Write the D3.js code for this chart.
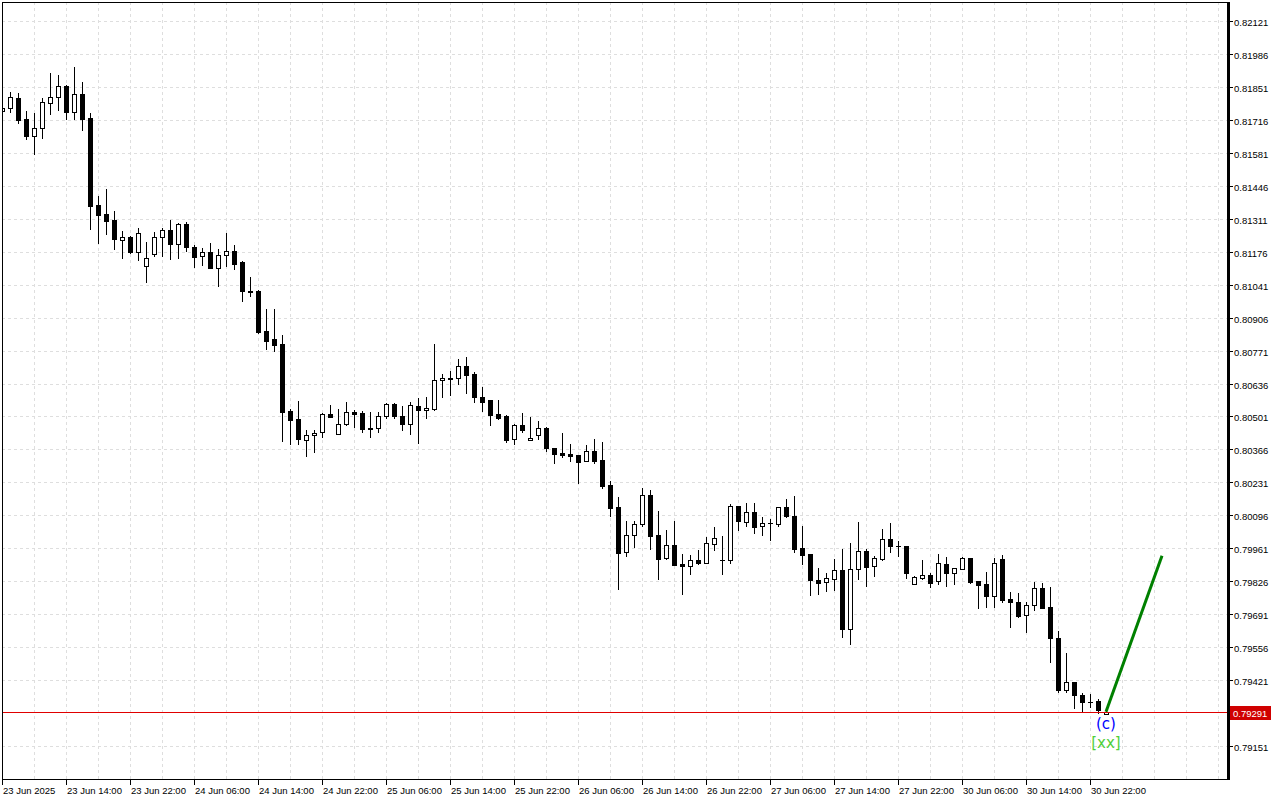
<!DOCTYPE html>
<html><head><meta charset="utf-8">
<script src="https://cdn.jsdelivr.net/npm/d3@7"></script>
<style>body{margin:0;background:#fff;} svg{display:block;}</style>
</head><body><svg id="c" width="1280" height="800"></svg>
<script>
// ---- data (hourly candles, 23 Jun 2025 06:00 onward) ----
const openP = [0.81752,0.81764,0.81806,0.81719,0.81650,0.81682,0.81785,0.81810,0.81855,0.81748,0.81822,0.81723,0.81368,0.81331,0.81306,0.81224,0.81236,0.81175,0.81118,0.81167,0.81236,0.81265,0.81208,0.81290,0.81195,0.81159,0.81175,0.81109,0.81163,0.81179,0.81134,0.81015,0.81015,0.80851,0.80818,0.80798,0.80523,0.80490,0.80404,0.80425,0.80437,0.80511,0.80429,0.80470,0.80519,0.80515,0.80453,0.80453,0.80502,0.80552,0.80502,0.80470,0.80543,0.80527,0.80531,0.80650,0.80658,0.80658,0.80708,0.80675,0.80581,0.80568,0.80511,0.80502,0.80408,0.80466,0.80404,0.80425,0.80453,0.80371,0.80351,0.80347,0.80343,0.80318,0.80359,0.80322,0.80220,0.80130,0.79946,0.80016,0.80061,0.80179,0.80016,0.79921,0.79975,0.79897,0.79889,0.79913,0.79901,0.79979,0.79913,0.79913,0.80134,0.80069,0.80110,0.80052,0.80065,0.80061,0.80130,0.80093,0.79962,0.79938,0.79831,0.79823,0.79835,0.79872,0.79630,0.79876,0.79950,0.79889,0.79917,0.79999,0.79971,0.79971,0.79815,0.79839,0.79852,0.79827,0.79897,0.79860,0.79876,0.79921,0.79827,0.79815,0.79766,0.79917,0.79753,0.79741,0.79688,0.79729,0.79799,0.79720,0.79593,0.79380,0.79413,0.79360,0.79331,0.79335,0.79282];
const highP = [0.81781,0.81830,0.81826,0.81752,0.81744,0.81806,0.81908,0.81900,0.81859,0.81933,0.81871,0.81744,0.81404,0.81432,0.81343,0.81261,0.81241,0.81273,0.81216,0.81257,0.81273,0.81306,0.81294,0.81298,0.81204,0.81191,0.81212,0.81187,0.81253,0.81204,0.81138,0.81073,0.81019,0.80941,0.80941,0.80835,0.80531,0.80564,0.80445,0.80445,0.80515,0.80548,0.80531,0.80560,0.80527,0.80523,0.80519,0.80519,0.80556,0.80556,0.80543,0.80560,0.80577,0.80581,0.80798,0.80675,0.80687,0.80736,0.80744,0.80683,0.80622,0.80568,0.80568,0.80507,0.80470,0.80515,0.80498,0.80482,0.80457,0.80371,0.80433,0.80388,0.80343,0.80384,0.80408,0.80396,0.80236,0.80171,0.80073,0.80073,0.80208,0.80199,0.80114,0.80036,0.80073,0.79938,0.79934,0.79954,0.80007,0.80048,0.80012,0.80143,0.80134,0.80147,0.80147,0.80089,0.80081,0.80130,0.80162,0.80175,0.80052,0.79938,0.79880,0.79860,0.79917,0.79958,0.79983,0.80069,0.79958,0.79930,0.80040,0.80065,0.79991,0.79971,0.79848,0.79913,0.79860,0.79938,0.79925,0.79880,0.79925,0.79921,0.79827,0.79864,0.79921,0.79934,0.79782,0.79778,0.79741,0.79823,0.79819,0.79803,0.79622,0.79532,0.79413,0.79368,0.79364,0.79343,0.79294];
const lowP = [0.81744,0.81748,0.81703,0.81637,0.81576,0.81641,0.81740,0.81756,0.81719,0.81719,0.81674,0.81269,0.81212,0.81249,0.81187,0.81150,0.81171,0.81142,0.81052,0.81159,0.81159,0.81146,0.81150,0.81179,0.81114,0.81122,0.81109,0.81036,0.81118,0.81105,0.80974,0.80995,0.80843,0.80777,0.80769,0.80400,0.80388,0.80388,0.80339,0.80355,0.80416,0.80498,0.80429,0.80466,0.80457,0.80437,0.80416,0.80437,0.80494,0.80494,0.80445,0.80429,0.80392,0.80494,0.80527,0.80581,0.80589,0.80634,0.80597,0.80560,0.80523,0.80466,0.80490,0.80396,0.80388,0.80437,0.80404,0.80408,0.80359,0.80310,0.80334,0.80318,0.80228,0.80318,0.80310,0.80208,0.80093,0.79794,0.79930,0.79966,0.80052,0.79958,0.79835,0.79917,0.79893,0.79774,0.79856,0.79897,0.79901,0.79954,0.79856,0.79901,0.80036,0.80052,0.80024,0.80016,0.79995,0.80052,0.80089,0.79946,0.79897,0.79770,0.79774,0.79786,0.79790,0.79597,0.79569,0.79835,0.79807,0.79848,0.79913,0.79946,0.79930,0.79839,0.79815,0.79835,0.79803,0.79815,0.79807,0.79815,0.79876,0.79819,0.79716,0.79720,0.79720,0.79741,0.79638,0.79679,0.79618,0.79708,0.79716,0.79495,0.79372,0.79372,0.79306,0.79294,0.79310,0.79286,0.79282];
const closeP = [0.81764,0.81810,0.81715,0.81650,0.81682,0.81789,0.81810,0.81855,0.81748,0.81822,0.81719,0.81363,0.81327,0.81302,0.81228,0.81236,0.81175,0.81253,0.81150,0.81236,0.81265,0.81208,0.81290,0.81195,0.81154,0.81175,0.81109,0.81163,0.81179,0.81126,0.81015,0.81011,0.80847,0.80810,0.80794,0.80519,0.80486,0.80408,0.80425,0.80433,0.80511,0.80498,0.80470,0.80519,0.80511,0.80449,0.80449,0.80502,0.80552,0.80502,0.80470,0.80548,0.80527,0.80535,0.80650,0.80658,0.80654,0.80708,0.80671,0.80581,0.80560,0.80507,0.80494,0.80404,0.80466,0.80445,0.80412,0.80453,0.80371,0.80347,0.80343,0.80339,0.80314,0.80359,0.80318,0.80216,0.80126,0.79942,0.80016,0.80061,0.80179,0.80012,0.79917,0.79975,0.79893,0.79889,0.79913,0.79901,0.79983,0.80003,0.79913,0.80134,0.80073,0.80110,0.80048,0.80065,0.80065,0.80130,0.80093,0.79958,0.79934,0.79831,0.79819,0.79839,0.79872,0.79630,0.79876,0.79950,0.79885,0.79921,0.79999,0.79971,0.79971,0.79860,0.79844,0.79852,0.79819,0.79901,0.79860,0.79880,0.79921,0.79823,0.79811,0.79766,0.79901,0.79749,0.79741,0.79683,0.79729,0.79799,0.79716,0.79593,0.79380,0.79413,0.79360,0.79331,0.79331,0.79298,0.79291];

const priceTicks = [0.82121,0.81986,0.81851,0.81716,0.81581,0.81446,0.81311,0.81176,0.81041,0.80906,0.80771,0.80636,0.80501,0.80366,0.80231,0.80096,0.79961,0.79826,0.79691,0.79556,0.79421,0.79151];
const timeLabels = ["23 Jun 2025","23 Jun 14:00","23 Jun 22:00","24 Jun 06:00","24 Jun 14:00","24 Jun 22:00","25 Jun 06:00","25 Jun 14:00","25 Jun 22:00","26 Jun 06:00","26 Jun 14:00","26 Jun 22:00","27 Jun 06:00","27 Jun 14:00","27 Jun 22:00","30 Jun 06:00","30 Jun 14:00","30 Jun 22:00"];
const barsPerLabel = 8;
const barsPerGrid = 4;
const lastPrice = 0.79291;
const projIdx = [138, 145];
const projPrice = [0.79291, 0.79930];
const waveText = "(c)";
const degreeText = "[xx]";

// ---- layout ----
const L = 2, T = 2, R = 1228, B = 779;
const svg = d3.select("#c");
const x = d3.scaleLinear().domain([0, 136]).range([2, 1090]);
const y = d3.scaleLinear().domain([0.79151, 0.82121]).range([746, 21]);
const font = "'Liberation Sans', Arial, sans-serif";

svg.append("rect").attr("width",1280).attr("height",800).attr("fill","#fff");
svg.append("defs").append("clipPath").attr("id","plot")
  .append("rect").attr("x",L).attr("y",T).attr("width",R-L).attr("height",B-T);

// grid
const grid = svg.append("g").attr("stroke","#dedede").attr("stroke-width",1).attr("stroke-dasharray","3,3");
const nGrid = Math.floor(x.invert(R-2)/barsPerGrid);
grid.selectAll("line.v").data(d3.range(0, nGrid+1).map(k=>k*barsPerGrid)).join("line")
  .attr("x1",d=>Math.round(x(d))+0.5).attr("x2",d=>Math.round(x(d))+0.5)
  .attr("y1",T).attr("y2",B);
grid.selectAll("line.h").data(priceTicks).join("line")
  .attr("x1",L).attr("x2",R-1)
  .attr("y1",d=>Math.round(y(d))+0.5).attr("y2",d=>Math.round(y(d))+0.5);

// candles
const data = openP.map((o,i)=>({i,o,h:highP[i],l:lowP[i],c:closeP[i]}));
const cg = svg.append("g").attr("clip-path","url(#plot)");
const cand = cg.selectAll("g.c").data(data).join("g");
cand.append("line")
  .attr("x1",d=>Math.round(x(d.i))+0.5).attr("x2",d=>Math.round(x(d.i))+0.5)
  .attr("y1",d=>Math.round(y(d.h))).attr("y2",d=>Math.round(y(d.l))+1)
  .attr("stroke","#000").attr("stroke-width",1);
cand.each(function(d){
  const g = d3.select(this);
  const X = Math.round(x(d.i));
  const yo = Math.round(y(d.o)), yc = Math.round(y(d.c));
  const top = Math.min(yo,yc), hgt = Math.abs(yo-yc);
  if (hgt < 1) {
    g.append("line").attr("x1",X-2).attr("x2",X+3).attr("y1",top+0.5).attr("y2",top+0.5)
      .attr("stroke","#000").attr("stroke-width",1);
  } else {
    g.append("rect").attr("x",X-1.5).attr("y",top+0.5).attr("width",4).attr("height",hgt)
      .attr("fill", d.c > d.o ? "#fff" : "#000").attr("stroke","#000").attr("stroke-width",1);
  }
});

// current price line
svg.append("line").attr("x1",L).attr("x2",R-1)
  .attr("y1",Math.round(y(lastPrice))+0.5).attr("y2",Math.round(y(lastPrice))+0.5)
  .attr("stroke","#e00000").attr("stroke-width",1);

// projection line
svg.append("path")
  .datum(projIdx.map((d,k)=>[d, projPrice[k]]))
  .attr("d", d3.line().x(d=>x(d[0])).y(d=>y(d[1])))
  .attr("stroke","#008000").attr("stroke-width",3).attr("fill","none");

// wave labels
svg.append("text").attr("x",x(projIdx[0])).attr("y",y(projPrice[0])+17.5)
  .attr("text-anchor","middle").attr("font-family","'DejaVu Sans', sans-serif").attr("font-size",15)
  .attr("fill","#0000ff").text(waveText);
svg.append("text").attr("x",x(projIdx[0])).attr("y",y(projPrice[0])+36.5)
  .attr("text-anchor","middle").attr("font-family","'DejaVu Sans', sans-serif").attr("font-size",15)
  .attr("fill","#4fcf3a").text(degreeText);

// frame
svg.append("line").attr("x1",L+0.5).attr("x2",L+0.5).attr("y1",T).attr("y2",B+1).attr("stroke","#000");
svg.append("line").attr("x1",L).attr("x2",R).attr("y1",T+0.5).attr("y2",T+0.5).attr("stroke","#000");
svg.append("line").attr("x1",L).attr("x2",R).attr("y1",B+0.5).attr("y2",B+0.5).attr("stroke","#000");
svg.append("rect").attr("x",R-1).attr("y",T).attr("width",3).attr("height",B-T+1).attr("fill","#000");

// right axis labels
const ra = svg.append("g");
ra.selectAll("line").data(priceTicks).join("line")
  .attr("x1",R+2).attr("x2",R+5)
  .attr("y1",d=>Math.round(y(d))+0.5).attr("y2",d=>Math.round(y(d))+0.5)
  .attr("stroke","#000");
ra.selectAll("text").data(priceTicks).join("text")
  .attr("x",R+6).attr("y",d=>Math.round(y(d))+4.5)
  .attr("font-family",font).attr("font-size",9.5).attr("fill","#000")
  .text(d=>d.toFixed(5));

// current price tag
const yl = Math.round(y(lastPrice));
svg.append("rect").attr("x",R+2).attr("y",yl-6).attr("width",41).attr("height",14).attr("fill","#d00000");
svg.append("text").attr("x",R+5).attr("y",yl+4.5).attr("font-family",font).attr("font-size",9.5)
  .attr("fill","#fff").text(lastPrice.toFixed(5));

// bottom axis
const ba = svg.append("g");
ba.selectAll("line").data(timeLabels).join("line")
  .attr("x1",(d,k)=>Math.round(x(k*barsPerLabel))+0.5).attr("x2",(d,k)=>Math.round(x(k*barsPerLabel))+0.5)
  .attr("y1",B+1).attr("y2",B+6).attr("stroke","#000");
ba.selectAll("text").data(timeLabels).join("text")
  .attr("x",(d,k)=>Math.round(x(k*barsPerLabel))+1).attr("y",794)
  .attr("font-family",font).attr("font-size",9.5).attr("fill","#000")
  .text(d=>d);
</script></body></html>
